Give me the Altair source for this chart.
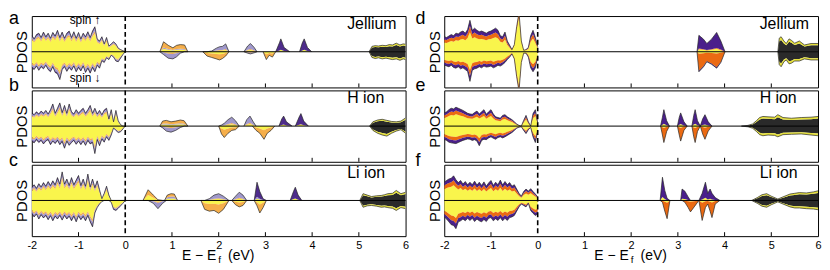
import altair as alt
import pandas as pd

# ---------------- data ----------------
E_OCC = [-2.0, -1.95, -1.9, -1.85, -1.8, -1.75, -1.7, -1.65, -1.6, -1.55, -1.5,
         -1.45, -1.4, -1.35, -1.3, -1.25, -1.2, -1.15, -1.1, -1.05, -1.0,
         -0.95, -0.9, -0.85, -0.8, -0.75, -0.7, -0.65, -0.6, -0.55, -0.5,
         -0.45, -0.4, -0.35, -0.3, -0.25, -0.2, -0.15, -0.1, -0.05, 0.0]

A_OCC_UP = [0.46, 0.36, 0.48, 0.52, 0.40, 0.55, 0.42, 0.52, 0.38, 0.54, 0.44, 0.60, 0.40, 0.55,
            0.38, 0.52, 0.58, 0.40, 0.56, 0.38, 0.54, 0.36, 0.52, 0.42, 0.56, 0.40, 0.58, 0.70,
            0.36, 0.30, 0.42, 0.22, 0.40, 0.16, 0.22, 0.28, 0.22, 0.10, 0.06, 0.03, 0.0]
A_OCC_DN = [-0.44, -0.50, -0.40, -0.52, -0.42, -0.48, -0.38, -0.50, -0.56, -0.42, -0.58, -0.62,
            -0.78, -0.50, -0.42, -0.55, -0.44, -0.52, -0.40, -0.56, -0.44, -0.54, -0.40, -0.58,
            -0.46, -0.60, -0.44, -0.56, -0.38, -0.46, -0.25, -0.30, -0.17, -0.22, -0.10, -0.15,
            -0.26, -0.28, -0.18, -0.08, 0.0]
B_OCC_UP = [0.37, 0.32, 0.40, 0.34, 0.42, 0.36, 0.44, 0.34, 0.46, 0.62, 0.36, 0.50, 0.65, 0.38,
            0.58, 0.36, 0.62, 0.40, 0.34, 0.46, 0.36, 0.44, 0.50, 0.36, 0.46, 0.58, 0.36, 0.50,
            0.34, 0.44, 0.32, 0.45, 0.50, 0.20, 0.46, 0.12, 0.44, 0.15, 0.04, 0.0, 0.0]
B_OCC_DN = [-0.42, -0.47, -0.38, -0.46, -0.40, -0.50, -0.42, -0.38, -0.52, -0.42, -0.49, -0.40,
            -0.52, -0.43, -0.62, -0.42, -0.54, -0.46, -0.40, -0.51, -0.42, -0.52, -0.42, -0.54,
            -0.40, -0.50, -0.46, -0.77, -0.38, -0.55, -0.36, -0.45, -0.30, -0.40, -0.25, -0.05,
            -0.12, -0.18, -0.16, -0.08, 0.0]
C_OCC_UP = [0.37, 0.44, 0.34, 0.47, 0.38, 0.50, 0.40, 0.53, 0.42, 0.55, 0.44, 0.64, 0.46, 0.80,
            0.46, 0.60, 0.42, 0.64, 0.44, 0.57, 0.70, 0.42, 0.60, 0.40, 0.74, 0.38, 0.60, 0.36,
            0.55, 0.30, 0.05, 0.20, 0.40, 0.15, 0.0, 0.0, 0.0, 0.0, 0.0, 0.0, 0.0]
C_OCC_DN = [-0.37, -0.46, -0.38, -0.52, -0.40, -0.49, -0.42, -0.54, -0.43, -0.57, -0.44, -0.52,
            -0.42, -0.55, -0.42, -0.52, -0.44, -0.57, -0.44, -0.60, -0.43, -0.54, -0.45, -0.57,
            -0.42, -0.60, -0.74, -0.35, -0.20, -0.10, -0.03, 0.0, 0.0, 0.0, -0.05, -0.25,
            -0.28, -0.22, -0.15, -0.08, 0.0]
D_OCC_UP = [0.42, 0.40, 0.44, 0.48, 0.45, 0.52, 0.50, 0.55, 0.58, 0.52, 0.62, 0.88, 0.60, 0.66,
            0.60, 0.56, 0.58, 0.55, 0.52, 0.56, 0.58, 0.62, 0.66, 0.60, 0.45, 0.42, 0.55, 0.30,
            0.18, 0.06, 0.20, 0.70, 1.10, 0.30, 0.04, 0.06, 0.12, 0.45, 0.60, 0.40, 0.15]
D_OCC_DN = [-0.37, -0.40, -0.42, -0.38, -0.44, -0.46, -0.42, -0.48, -0.45, -0.50, -0.55, -0.83,
            -0.52, -0.48, -0.46, -0.42, -0.45, -0.40, -0.43, -0.42, -0.40, -0.45, -0.42, -0.38,
            -0.40, -0.36, -0.30, -0.22, -0.15, -0.06, -0.20, -0.70, -1.10, -0.30, -0.04, -0.04,
            -0.15, -0.45, -0.56, -0.45, -0.15]
E_OCC_UP = [0.37, 0.40, 0.46, 0.50, 0.48, 0.53, 0.50, 0.47, 0.44, 0.40, 0.36, 0.34, 0.33, 0.38,
            0.42, 0.34, 0.40, 0.46, 0.33, 0.40, 0.46, 0.34, 0.26, 0.24, 0.22, 0.30, 0.32, 0.26,
            0.22, 0.18, 0.12, 0.06, 0.02, 0.0, 0.16, 0.30, 0.12, 0.0, 0.35, 0.46, 0.10]
E_OCC_DN = [-0.37, -0.40, -0.45, -0.47, -0.48, -0.49, -0.46, -0.43, -0.40, -0.38, -0.36, -0.37,
            -0.40, -0.38, -0.42, -0.55, -0.40, -0.37, -0.38, -0.33, -0.30, -0.34, -0.37, -0.32,
            -0.30, -0.33, -0.30, -0.26, -0.22, -0.18, -0.12, -0.06, -0.03, -0.02, -0.12, -0.21,
            -0.10, -0.04, -0.30, -0.46, -0.15]
F_OCC_UP = [0.51, 0.56, 0.60, 0.62, 0.69, 0.58, 0.50, 0.56, 0.46, 0.53, 0.44, 0.51, 0.44, 0.54,
            0.43, 0.51, 0.42, 0.52, 0.40, 0.49, 0.56, 0.42, 0.51, 0.44, 0.57, 0.43, 0.53, 0.44,
            0.50, 0.40, 0.44, 0.32, 0.20, 0.12, 0.25, 0.32, 0.26, 0.33, 0.25, 0.18, 0.10]
F_OCC_DN = [-0.46, -0.52, -0.60, -0.68, -0.70, -0.79, -0.60, -0.57, -0.52, -0.57, -0.50, -0.56,
            -0.50, -0.59, -0.52, -0.57, -0.60, -0.53, -0.59, -0.50, -0.48, -0.57, -0.51, -0.56,
            -0.48, -0.57, -0.50, -0.56, -0.48, -0.46, -0.42, -0.30, -0.18, -0.10, -0.14, -0.18,
            -0.08, -0.28, -0.36, -0.42, -0.38]

# layer compositions (inside -> outside)
OCC_L = [("Y", 0.72), ("O", 0.10), ("L", 0.12), ("P", 0.06)]
OCC_R = [("Y", 0.62), ("O2", 0.20), ("P2", 0.18)]
SPIKE_R = [("Y", 0.88), ("O2", 0.12)]
BLK = [("K", 0.78), ("KY", 0.22)]
PUR_L = [("Y", 0.15), ("P", 0.85)]
ORA_L = [("Y", 0.32), ("O", 0.68)]
LAV_L = [("Y", 0.22), ("O", 0.12), ("L", 0.66)]
LAVD_L = [("Y", 0.15), ("O", 0.15), ("L", 0.70)]
PUR_R = [("Y", 0.15), ("P2", 0.85)]
ORA_R = [("Y", 0.12), ("O2", 0.88)]

# occupied segments per panel: (first index, last index, composition)
A_SEG = [(0, 40, OCC_L)]
B_SEG = [(0, 40, OCC_L)]
C_SEG = [(0, 40, OCC_L)]
D_SEG = [(0, 29, OCC_R), (29, 35, SPIKE_R), (35, 40, OCC_R)]
E_SEG = [(0, 40, OCC_R)]
F_SEG = [(0, 40, OCC_R)]

# unoccupied peaks: (E, up, down, comp_up, comp_down)
A_FEAT = [
    ([0.74, 0.82, 0.92, 1.02, 1.10, 1.18, 1.27, 1.34], [0, 0.28, 0.18, 0.11, 0.18, 0.20, 0.19, 0],
     [0, -0.08, -0.18, -0.20, -0.14, -0.04, 0, 0], [("Y", 0.3), ("L", 0.12), ("O", 0.58)], LAVD_L),
    ([1.66, 1.75, 1.85, 1.95, 2.02, 2.08, 2.15, 2.22], [0, 0, 0.02, 0.10, 0.14, 0.15, 0.22, 0],
     [0, -0.12, -0.16, -0.20, -0.23, -0.19, -0.12, 0], LAV_L, ORA_L),
    ([2.54, 2.62, 2.68, 2.76, 2.82], [0, 0.16, 0.23, 0.12, 0], [0, -0.04, -0.06, -0.03, 0],
     LAV_L, [("O", 0.5), ("L", 0.5)]),
    ([2.95, 3.02, 3.08, 3.15, 3.22], [0, 0, 0, 0, 0], [0, -0.22, -0.10, -0.15, 0], None, ORA_L),
    ([3.22, 3.30, 3.33, 3.40, 3.52], [0, 0.25, 0.36, 0.12, 0], [0, 0, 0, 0, 0], PUR_L, None),
    ([3.73, 3.79, 3.83, 3.90, 3.99], [0, 0.25, 0.36, 0.12, 0], [0, 0, 0, 0, 0], PUR_L, None),
    ([5.22, 5.28, 5.35, 5.42, 5.5, 5.58, 5.65, 5.72, 5.8, 5.88, 5.95, 6.0],
     [0, 0.15, 0.17, 0.16, 0.18, 0.17, 0.20, 0.19, 0.24, 0.19, 0.22, 0.21],
     [0, -0.16, -0.19, -0.17, -0.20, -0.18, -0.20, -0.22, -0.20, -0.24, -0.20, -0.22], BLK, BLK),
]
B_FEAT = [
    ([0.74, 0.80, 0.88, 0.98, 1.08, 1.18, 1.26, 1.34], [0, 0.14, 0.16, 0.12, 0.14, 0.17, 0.15, 0],
     [0, -0.05, -0.14, -0.17, -0.12, -0.04, 0, 0], [("Y", 0.3), ("L", 0.15), ("O", 0.55)], LAVD_L),
    ([2.0, 2.06, 2.12, 2.2, 2.28, 2.36, 2.44], [0, 0.03, 0.08, 0.18, 0.25, 0.15, 0],
     [0, -0.22, -0.32, -0.20, -0.12, -0.10, 0], LAV_L, ORA_L),
    ([2.54, 2.60, 2.67, 2.74, 2.80], [0, 0.18, 0.28, 0.12, 0], [0, 0, 0, 0, 0], LAV_L, None),
    ([2.72, 2.80, 2.88, 2.97, 3.04, 3.12, 3.20], [0, 0, 0, 0, 0, 0, 0],
     [0, -0.12, -0.20, -0.37, -0.20, -0.12, 0], None, ORA_L),
    ([3.29, 3.35, 3.39, 3.45, 3.57], [0, 0.20, 0.28, 0.12, 0], [0, 0, 0, 0, 0], PUR_L, None),
    ([3.64, 3.72, 3.76, 3.82, 3.92], [0, 0.25, 0.35, 0.14, 0], [0, 0, 0, 0, 0], PUR_L, None),
    ([5.23, 5.3, 5.4, 5.5, 5.6, 5.7, 5.8, 5.9, 6.0],
     [0, 0.12, 0.17, 0.19, 0.16, 0.13, 0.12, 0.14, 0.23],
     [0, -0.12, -0.20, -0.25, -0.28, -0.20, -0.14, -0.10, -0.20], BLK, BLK),
]
C_FEAT = [
    ([0.38, 0.49, 0.60, 0.70, 0.80, 0.88], [0, 0.30, 0.15, 0.02, 0, 0],
     [0, 0, -0.08, -0.23, -0.08, 0], [("Y", 0.5), ("O", 0.5)], LAVD_L),
    ([0.84, 0.90, 0.98, 1.05, 1.12], [0, 0.15, 0.19, 0.18, 0], [0, 0, 0, 0, 0],
     [("Y", 0.3), ("L", 0.3), ("O", 0.4)], None),
    ([1.62, 1.70, 1.80, 1.90, 2.00, 2.10, 2.22], [0, 0, 0.05, 0.15, 0.19, 0.12, 0],
     [0, -0.25, -0.30, -0.28, -0.36, -0.25, 0], LAV_L, ORA_L),
    ([2.28, 2.36, 2.44, 2.52, 2.60], [0, 0.12, 0.23, 0.15, 0], [0, -0.12, -0.18, -0.14, 0],
     LAV_L, ORA_L),
    ([2.76, 2.82, 2.88, 2.95, 3.02], [0, 0.51, 0.25, 0.05, 0], [0, -0.15, -0.35, -0.20, 0],
     [("Y", 0.1), ("L", 0.1), ("P", 0.8)], ORA_L),
    ([3.53, 3.60, 3.64, 3.70, 3.78], [0, 0.25, 0.37, 0.15, 0], [0, 0, 0, 0, 0], PUR_L, None),
    ([5.02, 5.09, 5.18, 5.27, 5.38, 5.48, 5.55, 5.62, 5.72, 5.80, 5.90, 6.0],
     [0, 0.19, 0.15, 0.11, 0.13, 0.14, 0.16, 0.19, 0.20, 0.28, 0.19, 0.23],
     [0, -0.19, -0.15, -0.14, -0.16, -0.19, -0.18, -0.20, -0.22, -0.28, -0.20, -0.23], BLK, BLK),
]
D_FEAT = [
    ([3.41, 3.45, 3.55, 3.62, 3.72, 3.83, 3.92, 4.01], [0, 0.46, 0.35, 0.23, 0.35, 0.54, 0.30, 0],
     [0, -0.56, -0.42, -0.28, -0.35, -0.46, -0.30, 0],
     [("Y", 0.15), ("O2", 0.05), ("P2", 0.80)], [("Y", 0.10), ("O2", 0.85), ("P2", 0.05)]),
    ([5.14, 5.17, 5.21, 5.27, 5.32, 5.38, 5.43, 5.50, 5.60, 5.71, 5.85, 6.0],
     [0, 0.38, 0.42, 0.30, 0.23, 0.36, 0.32, 0.24, 0.30, 0.19, 0.23, 0.23],
     [0, -0.36, -0.42, -0.28, -0.23, -0.34, -0.32, -0.26, -0.26, -0.20, -0.23, -0.23], BLK, BLK),
]
E_FEAT = [
    ([2.63, 2.67, 2.70, 2.76, 2.82], [0, 0.25, 0.46, 0.15, 0], [0, -0.25, -0.46, -0.15, 0], PUR_R, ORA_R),
    ([2.99, 3.03, 3.06, 3.13, 3.20], [0, 0.25, 0.37, 0.12, 0], [0, -0.25, -0.42, -0.12, 0], PUR_R, ORA_R),
    ([3.30, 3.34, 3.37, 3.42, 3.48], [0, 0.30, 0.46, 0.15, 0], [0, -0.30, -0.46, -0.15, 0], PUR_R, ORA_R),
    ([3.48, 3.53, 3.58, 3.65, 3.73], [0, 0.20, 0.32, 0.12, 0], [0, -0.22, -0.37, -0.14, 0], PUR_R, ORA_R),
    ([4.36, 4.5, 4.6, 4.68, 4.75, 4.82, 4.93, 5.07, 5.14, 5.25, 5.43, 5.64, 5.85, 6.0],
     [0, 0.02, 0.06, 0.15, 0.24, 0.27, 0.26, 0.25, 0.32, 0.24, 0.22, 0.24, 0.25, 0.27],
     [0, -0.02, -0.06, -0.15, -0.24, -0.27, -0.25, -0.26, -0.30, -0.24, -0.23, -0.22, -0.25, -0.27],
     BLK, BLK),
]
F_FEAT = [
    ([2.62, 2.67, 2.72, 2.77, 2.83], [0, 0.65, 0.28, 0.06, 0], [0, -0.05, -0.30, -0.51, 0], PUR_R, ORA_R),
    ([3.06, 3.09, 3.15, 3.22, 3.27, 3.35, 3.45], [0, 0.32, 0.26, 0.10, 0, 0, 0],
     [0, 0, -0.05, -0.20, -0.32, -0.18, 0], PUR_R, ORA_R),
    ([3.45, 3.52, 3.59, 3.64, 3.69, 3.73, 3.80, 3.90], [0, 0.20, 0.51, 0.20, 0.32, 0.20, 0.08, 0],
     [0, -0.56, -0.20, -0.10, -0.30, -0.48, -0.10, 0], PUR_R, ORA_R),
    ([4.58, 4.7, 4.8, 4.9, 5.0, 5.14, 5.25, 5.4, 5.5, 5.6, 5.75, 5.9, 6.0],
     [0, 0.08, 0.16, 0.19, 0.12, 0.04, 0.10, 0.18, 0.20, 0.22, 0.21, 0.24, 0.27],
     [0, -0.08, -0.16, -0.19, -0.12, -0.04, -0.10, -0.18, -0.21, -0.21, -0.23, -0.24, -0.26],
     BLK, BLK),
]

PANELS = [
    ("a", "Jellium", A_OCC_UP, A_OCC_DN, A_SEG, A_FEAT),
    ("d", "Jellium", D_OCC_UP, D_OCC_DN, D_SEG, D_FEAT),
    ("b", "H ion", B_OCC_UP, B_OCC_DN, B_SEG, B_FEAT),
    ("e", "H ion", E_OCC_UP, E_OCC_DN, E_SEG, E_FEAT),
    ("c", "Li ion", C_OCC_UP, C_OCC_DN, C_SEG, C_FEAT),
    ("f", "Li ion", F_OCC_UP, F_OCC_DN, F_SEG, F_FEAT),
]

TICKS = [-1, 1, 2, 3, 4, 5]
TICK_LABELS = [-2, -1, 0, 1, 2, 3, 4, 5, 6]

COLOR_KEYS = ["Y", "O", "L", "P", "O2", "P2", "K", "KY"]
COLOR_VALUES = ["#F9F54C", "#F5AE4A", "#A098CB", "#4E2C8B", "#EB6A12", "#4A1F8B", "#2A2A2A", "#E6E13A"]

# ---------------- build tables ----------------
area_rows, line_rows = [], []


def add_feature(panel, gid, E, up, dn, cu, cd, outline=True):
    for tag, env, comp in (("u", up, cu), ("d", dn, cd)):
        if comp is None or not any(env):
            continue
        cum = 0.0
        for layer, frac in comp:
            for e, v in zip(E, env):
                area_rows.append({"panel": panel, "gid": f"{gid}{tag}{layer}", "layer": layer,
                                  "E": e, "lo": v * cum, "hi": v * (cum + frac)})
            cum += frac
        if outline:
            for e, v in zip(E, env):
                line_rows.append({"panel": panel, "gid": f"{gid}{tag}", "E": e, "v": v})


for pid, _, up, dn, segs, feats in PANELS:
    for s, (i0, i1, comp) in enumerate(segs):
        add_feature(pid, f"occ{s}", E_OCC[i0:i1 + 1], up[i0:i1 + 1], dn[i0:i1 + 1], comp, comp, False)
    for e, u, d in zip(E_OCC, up, dn):
        line_rows.append({"panel": pid, "gid": "occu", "E": e, "v": u})
        line_rows.append({"panel": pid, "gid": "occd", "E": e, "v": d})
    for k, (E, fu, fd, cu, cd) in enumerate(feats):
        add_feature(pid, f"f{k}", E, fu, fd, cu, cd)

AREA = pd.DataFrame(area_rows)
LINES = pd.DataFrame(line_rows)

# ---------------- chart ----------------
W, H = 377, 72
FONT = "Liberation Sans"
xs = alt.Scale(domain=[-2, 6], nice=False, zero=False)
ys = alt.Scale(domain=[-1, 1], nice=False, zero=False)
cscale = alt.Scale(domain=COLOR_KEYS, range=COLOR_VALUES)
yaxis = alt.Axis(title="PDOS", labels=False, ticks=False, domain=False, grid=False,
                 titleFontSize=15, titleFontWeight="normal", titlePadding=2,
                 titleColor="black", titleFont=FONT)


def make_panel(pid, name, left, bottom):
    if bottom:
        xaxis = alt.Axis(values=TICK_LABELS, labelExpr="'' + datum.value", ticks=False, tickSize=0,
                         domain=False, grid=False, labelFontSize=11, labelPadding=3,
                         labelFlush=False, labelColor="black", labelFont=FONT, title=None)
    else:
        xaxis = None

    def X(f):
        return alt.X(f, type="quantitative", scale=xs, axis=xaxis)

    def Y(f):
        return alt.Y(f, type="quantitative", scale=ys, axis=yaxis)

    areas = alt.Chart(AREA[AREA.panel == pid]).mark_area(clip=True, interpolate="linear").encode(
        x=X("E"), y=Y("hi"), y2=alt.Y2("lo"),
        color=alt.Color("layer:N", scale=cscale, legend=None), detail="gid:N")
    lines = alt.Chart(LINES[LINES.panel == pid]).mark_line(
        clip=True, color="#262626", strokeWidth=0.7).encode(x=X("E"), y=Y("v"), detail="gid:N")
    zero = alt.Chart(pd.DataFrame({"y": [0]})).mark_rule(color="black", strokeWidth=1).encode(y=Y("y"))
    fermi = alt.Chart(pd.DataFrame({"x": [0]})).mark_rule(
        color="black", strokeWidth=1.6, strokeDash=[5, 3]).encode(x=X("x"))
    ticks = alt.Chart(pd.DataFrame({"x": TICKS})).mark_rule(color="black", strokeWidth=1).encode(
        x=X("x"), y=alt.value(H - 4), y2=alt.value(H))
    label = alt.Chart(pd.DataFrame({"x": [4.75], "t": [name]})).mark_text(
        align="left", baseline="alphabetic", fontSize=16, color="black", font=FONT).encode(
        x=X("x"), y=alt.value(13), text="t:N")
    top_row = pid in ("a", "d")
    letter = alt.Chart(pd.DataFrame({"t": [pid]})).mark_text(
        align="left", baseline="alphabetic", fontSize=18, color="black", font=FONT).encode(
        x=alt.value(-23 if left else -29), y=alt.value(8 if top_row else 1), text="t:N")
    layers = [areas, lines, zero, fermi, ticks, label, letter]
    if pid == "a":
        spin = pd.DataFrame({"x": [-1.19, -1.19], "y": [8, 67], "t": ["spin  \u2191", "spin  \u2193"]})
        layers.append(alt.Chart(spin).mark_text(
            align="left", baseline="alphabetic", fontSize=12, color="black", font=FONT).encode(
            x=X("x"), y=alt.Y("y:Q", scale=None, axis=None), text="t:N"))
    if bottom:
        for txt, xpos, ypos, fs, al in (("E \u2212 E", 186, H + 24, 14, "right"),
                                        ("f", 188, H + 27, 10, "left"),
                                        ("(eV)", 198, H + 24, 14, "left")):
            layers.append(alt.Chart(pd.DataFrame({"t": [txt]})).mark_text(
                align=al, baseline="alphabetic", fontSize=fs, color="black", font=FONT).encode(
                x=alt.value(xpos), y=alt.value(ypos), text="t:N"))
    return alt.layer(*layers).properties(width=W, height=H)


charts = [make_panel(pid, name, i % 2 == 0, i >= 4) for i, (pid, name, *_r) in enumerate(PANELS)]

chart = alt.concat(*charts, columns=2, spacing={"row": 3, "column": 39}, bounds="flush",
                   padding=0, background="white").configure(font=FONT).configure_view(
    stroke="black", strokeWidth=1)

chart.save("out.html", embed_options={"renderer": "svg", "actions": False})
